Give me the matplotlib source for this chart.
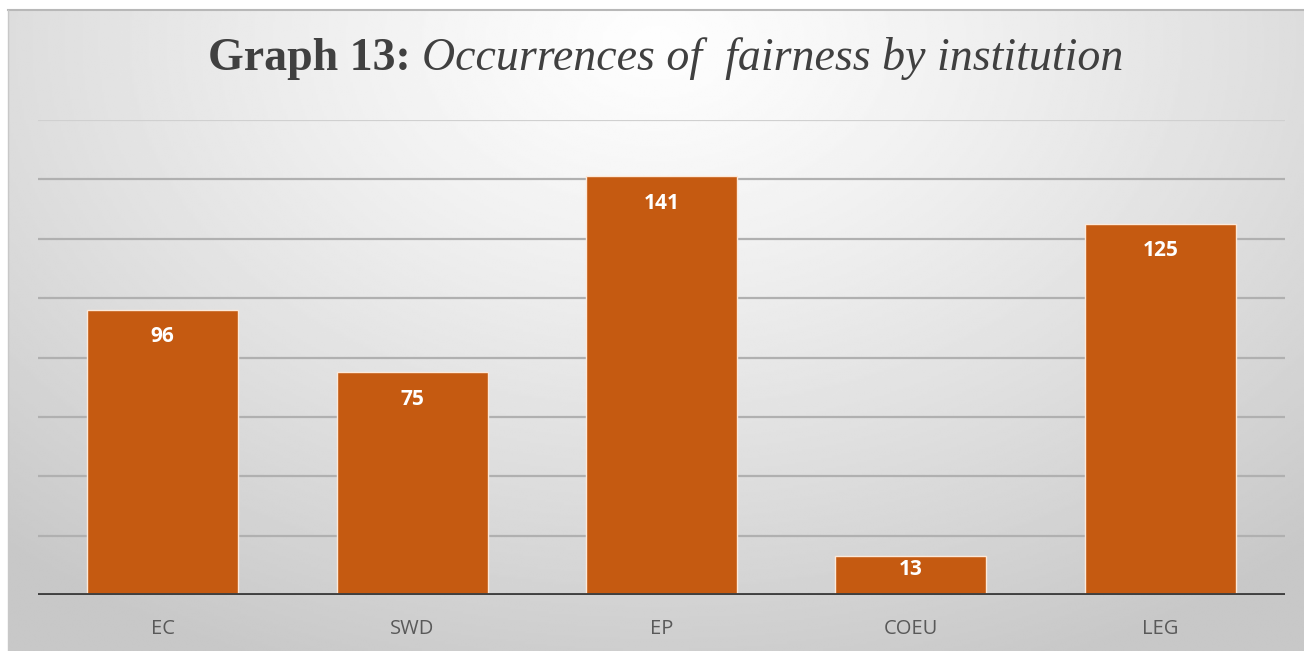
import numpy as np
import matplotlib

matplotlib.use("Agg")
import matplotlib.pyplot as plt
from matplotlib.lines import Line2D

institutions = ["EC", "SWD", "EP", "COEU", "LEG"]
occurrences = [96, 75, 141, 13, 125]
y_ticks = [20, 40, 60, 80, 100, 120, 140]
y_top = 160

BAR = "#c55a11"
W, H = 1304, 651

fig = plt.figure(figsize=(W / 100, H / 100), dpi=100)
fig.patch.set_facecolor("white")

# gradient chart-area background (light at top centre, greyer at edges)
bg = fig.add_axes([8 / W, 0, 1 - 8 / W, (H - 10) / H], zorder=-2)
yy, xx = np.mgrid[0:1:300j, 0:1:600j]
r = np.sqrt(((xx - 0.5) / 0.75) ** 2 + ((yy - 0.05) / 1.05) ** 2)
shade = 0.995 - 0.21 * np.clip(r, 0, 1) ** 1.2
bg.imshow(shade, cmap="gray", vmin=0, vmax=1, aspect="auto",
          extent=[0, 1, 1, 0], interpolation="bilinear")
bg.set_axis_off()
fig.add_artist(Line2D([8 / W, 1], [(H - 10) / H] * 2, color="#b8b8b8", lw=1.5))
fig.add_artist(Line2D([8 / W] * 2, [0, (H - 10) / H], color="#c8c8c8", lw=1))

ax = fig.add_axes([38 / W, 56 / H, (1285 - 38) / W, (595 - 120) / H])
ax.set_facecolor("none")
x = np.arange(len(institutions))
bars = ax.bar(x, occurrences, width=0.605, color=BAR, edgecolor="#fde9d9",
              linewidth=1.0, zorder=3)
ax.set_xlim(-0.5, len(institutions) - 0.5)
ax.set_ylim(0, y_top)
for t in y_ticks:
    ax.axhline(t, color="#b0b0b0", lw=1.6, zorder=1)
ax.axhline(y_top, color="#d0d0d0", lw=1.6, zorder=1)
ax.axhline(0, color="#404040", lw=2.8, zorder=4)
for s in ax.spines.values():
    s.set_visible(False)
ax.set_yticks([])
ax.set_xticks(x)
ax.set_xticklabels(institutions, family="Open Sans", fontsize=14.5, color="#595959")
ax.tick_params(axis="x", length=0, pad=17)

# inside-end labels; short bars get their label pulled up closer to the top
px_per_unit = (595 - 120) / y_top
for b, v in zip(bars, occurrences):
    off_px = min(27, v * px_per_unit * 0.35)
    ax.annotate(str(v), (b.get_x() + b.get_width() / 2, v), xytext=(0, -off_px * 0.72),
                textcoords="offset points", ha="center", va="center",
                family="Open Sans", fontweight="bold", fontsize=15,
                color="white", zorder=5)

# title: bold part + italic part, centred as a whole
fs = 33
t1 = fig.text(0, 0, "Graph 13: ", family="Liberation Serif", fontweight="bold",
              fontsize=fs, color="#404040")
t2 = fig.text(0, 0, "Occurrences of  fairness by institution", family="Liberation Serif",
              style="italic", fontsize=fs, color="#404040")
fig.canvas.draw()
rend = fig.canvas.get_renderer()
w1 = t1.get_window_extent(rend).width
w2 = t2.get_window_extent(rend).width
x0 = (666 - (w1 + w2) / 2)
yb = (H - 70) / H
t1.set_position((x0 / W, yb))
t1.set_va("baseline")
t2.set_position(((x0 + w1) / W, yb))
t2.set_va("baseline")

fig.savefig("out.png", dpi=100)
